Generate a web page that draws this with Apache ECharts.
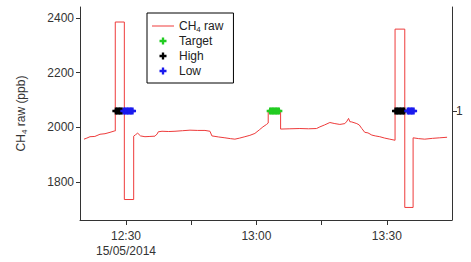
<!DOCTYPE html>
<html>
<head>
<meta charset="utf-8">
<script src="https://cdn.jsdelivr.net/npm/echarts@6/dist/echarts.min.js"></script>
<style>
  html, body { margin: 0; padding: 0; background: #fff; }
  #chart { width: 471px; height: 262px; }
</style>
</head>
<body>
<div id="chart"></div>
<script>
// CH4 raw trace (time of day, ppb)
var rawTimes = ['12:20:20','12:21:00','12:21:43','12:22:50','12:24:01','12:25:10','12:26:19','12:27:20',
  '12:27:32','12:27:32','12:29:37','12:29:37','12:31:46','12:31:46','12:32:10','12:32:41','12:33:20',
  '12:34:22','12:35:30','12:36:40','12:37:10','12:37:26','12:38:17','12:39:50','12:41:16','12:43:00',
  '12:44:43','12:46:30','12:48:10','12:49:19','12:49:46','12:51:20','12:52:45','12:54:00','12:55:03',
  '12:56:10','12:57:21','12:58:30','12:59:39','13:00:40','13:01:30','13:02:20','13:02:43','13:02:43',
  '13:05:34','13:05:34','13:07:42','13:10:00','13:12:00','13:13:50','13:14:36','13:15:40','13:16:54',
  '13:18:03','13:19:12','13:20:21','13:20:50','13:21:12','13:21:30','13:21:57','13:23:06','13:23:40',
  '13:24:15','13:24:56','13:25:40','13:26:33','13:27:20','13:28:23','13:29:30','13:30:41','13:31:54',
  '13:31:54','13:34:08','13:34:08','13:36:03','13:36:03','13:37:20','13:38:44','13:40:30','13:42:11',
  '13:43:52'];
var rawValues = [1956,1960,1965,1966,1974,1976,1981,1986,
  1986,2385,2385,1735,1735,1967,1972,1978,1968,
  1965,1966,1967,1975,1983,1985,1984,1985,1987,
  1989,1988,1988,1985,1968,1964,1961,1958,1956,
  1960,1965,1970,1977,1990,2001,2010,2015,2059,
  2059,1993,1994,1995,1994,1995,2001,2008,2017,
  2013,2010,2013,2022,2032,2020,2019,2013,2008,
  1995,1981,1979,1971,1968,1965,1960,1956,1952,
  2359,2359,1706,1706,1961,1958,1956,1959,1961,
  1963];

// calibration flags (right axis, value 1)
var targetTimes = ['13:03:10','13:03:30','13:03:50','13:04:10','13:04:30','13:04:50','13:05:10'];
var highTimes = ['12:27:40','12:28:00','12:28:20','12:28:40','12:29:00',
  '13:32:00','13:32:20','13:32:40','13:33:00','13:33:20','13:33:40','13:34:00'];
var lowTimes = ['12:29:30','12:29:50','12:30:10','12:30:30','12:30:50','12:31:10','12:31:30',
  '13:34:50','13:35:10','13:35:30','13:35:50','13:36:10'];
var flagValue = 1;

var xTicks = ['12:30','12:45','13:00','13:15','13:30'];
var xLabels = ['12:30','13:00','13:30'];
var yTicks = [1800, 2000, 2200, 2400];

function toMin(s) {
  var p = s.split(':');
  return +p[0] * 60 + +p[1] + (+(p[2] || 0)) / 60;
}
function pad(n) { return (n < 10 ? '0' : '') + n; }

var rawData = rawTimes.map(function(t, i) { return [toMin(t), rawValues[i]]; });
function flags(list) { return list.map(function(t) { return [toMin(t), flagValue]; }); }

var plus = 'path://M2,0H4V6H2Z M0,2H6V4H0Z';
var axisColor = '#333';
var font = 'Liberation Sans, Arial, sans-serif';

var chart = echarts.init(document.getElementById('chart'), null, { renderer: 'svg' });
chart.setOption({
  animation: false,
  textStyle: { fontFamily: font },
  grid: { left: 80, right: 19, top: 7, bottom: 42 },
  legend: {
    orient: 'vertical',
    left: 147,
    top: 13,
    width: 83,
    padding: [6, 10, 5, 5],
    borderColor: '#000',
    borderWidth: 1,
    borderRadius: 0,
    itemWidth: 22,
    itemHeight: 7,
    itemGap: 1,
    textStyle: {
      color: '#222', fontSize: 12, fontFamily: font, lineHeight: 14,
      rich: {
        a: { fontSize: 12, fontFamily: font, color: '#222' },
        s: { fontSize: 8, fontFamily: font, color: '#222', padding: [6, 0, 0, 0] }
      }
    },
    formatter: function(name) {
      if (name === 'CH4 raw') return '{a|CH}{s|4}{a| raw}';
      return name;
    },
    data: [
      { name: 'CH4 raw', icon: 'path://M0,0H22V1H0Z' },
      'Target', 'High', 'Low'
    ]
  },
  xAxis: {
    type: 'value',
    min: toMin('12:19:25'),
    max: toMin('13:45:00'),
    axisLine: { lineStyle: { color: axisColor, width: 1 } },
    axisTick: {
      length: 5,
      lineStyle: { color: axisColor },
      customValues: xTicks.map(toMin)
    },
    axisLabel: {
      color: '#333',
      fontSize: 12,
      fontFamily: font,
      margin: 8,
      lineHeight: 15,
      customValues: xLabels.map(toMin),
      formatter: function(v) {
        var h = Math.floor(v / 60), m = Math.round(v - h * 60);
        var s = h + ':' + pad(m);
        return v === toMin('12:30') ? s + '\n15/05/2014' : s;
      }
    },
    splitLine: { show: false }
  },
  yAxis: [{
    type: 'value',
    min: 1660,
    max: 2440,
    name: '{a|CH}{s|4}{a| raw (ppb)}',
    nameLocation: 'middle',
    nameGap: 52,
    nameRotate: 90,
    nameTextStyle: {
      rich: {
        a: { fontSize: 12, fontFamily: font, color: '#333' },
        s: { fontSize: 8, fontFamily: font, color: '#333', padding: [6, 0, 0, 0] }
      }
    },
    axisLine: { show: true, lineStyle: { color: axisColor, width: 1 } },
    axisTick: { show: true, length: 4, lineStyle: { color: axisColor }, customValues: yTicks },
    axisLabel: {
      color: '#333', fontSize: 12, fontFamily: font, margin: 6, customValues: yTicks,
      formatter: function(v) { return String(v); }
    },
    splitLine: { show: false }
  }, {
    type: 'value',
    position: 'right',
    min: 0,
    max: 1.954,
    axisLine: { show: true, lineStyle: { color: axisColor, width: 1 } },
    axisTick: { show: true, length: 5, lineStyle: { color: axisColor }, customValues: [flagValue] },
    axisLabel: {
      color: '#333', fontSize: 12, fontFamily: font, margin: 4, customValues: [flagValue],
      formatter: function(v) { return String(v); }
    },
    splitLine: { show: false }
  }],
  series: [{
    name: 'CH4 raw',
    type: 'line',
    data: rawData,
    symbol: 'none',
    lineStyle: { color: '#ee3b3b', width: 1 },
    itemStyle: { color: '#ee3b3b' },
    z: 2
  }, {
    name: 'Target',
    type: 'scatter',
    yAxisIndex: 1,
    data: flags(targetTimes),
    symbol: plus,
    symbolSize: 7,
    itemStyle: { color: '#22cc22', opacity: 1 },
    z: 3
  }, {
    name: 'High',
    type: 'scatter',
    yAxisIndex: 1,
    data: flags(highTimes),
    symbol: plus,
    symbolSize: 7,
    itemStyle: { color: '#000', opacity: 1 },
    z: 3
  }, {
    name: 'Low',
    type: 'scatter',
    yAxisIndex: 1,
    data: flags(lowTimes),
    symbol: plus,
    symbolSize: 7,
    itemStyle: { color: '#1a1aee', opacity: 1 },
    z: 4
  }]
});
</script>
</body>
</html>
